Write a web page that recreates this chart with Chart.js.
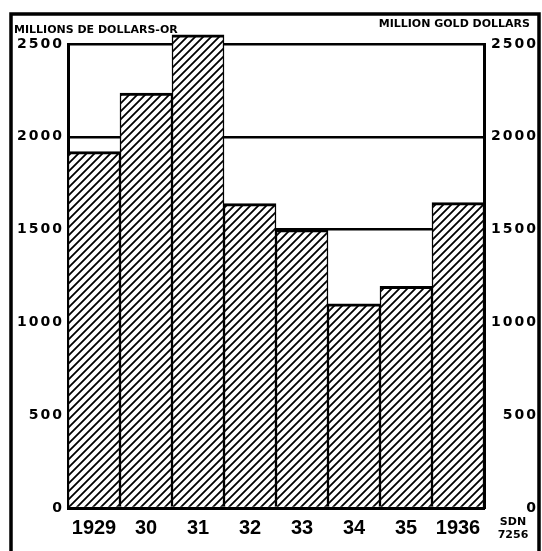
<!DOCTYPE html>
<html>
<head>
<meta charset="utf-8">
<script src="https://cdn.jsdelivr.net/npm/chart.js@4"></script>
<style>
    html, body { margin: 0; padding: 0; background: #fff; }
    #wrap { width: 542px; height: 551px; }
</style>
</head>
<body>
<div id="wrap"><canvas id="gold-chart" width="542" height="551"></canvas></div>
<script>
/* Gold reserves 1929-1936, hatched bar chart */

const years = ['1929', '30', '31', '32', '33', '34', '35', '1936'];
const goldReserves = [1920, 2235, 2550, 1640, 1500, 1100, 1195, 1645];
const yTicks = [0, 500, 1000, 1500, 2000, 2500];
const titleLeft = 'MILLIONS DE DOLLARS-OR';
const titleRight = 'MILLION GOLD DOLLARS';
const sourceNote = ['SDN', '7256'];

const TICK_FONT = { family: '"DejaVu Sans", sans-serif', size: 14, weight: 'bold' };
const CAT_FONT = { family: '"Liberation Sans", Arial, sans-serif', size: 20, weight: 'bold' };

// ── Hatch fill ───────────────────────────────────────────────────────────

function makeHatch() {
    const tile = document.createElement('canvas');
    tile.width = 8;
    tile.height = 8;
    const c = tile.getContext('2d');
    c.fillStyle = '#fff';
    c.fillRect(0, 0, 8, 8);
    c.strokeStyle = '#000';
    c.lineWidth = 1.8;
    c.beginPath();
    c.moveTo(-1, 9); c.lineTo(9, -1);
    c.moveTo(-1, 1); c.lineTo(1, -1);
    c.moveTo(7, 9); c.lineTo(9, 7);
    c.stroke();
    return c.createPattern(tile, 'repeat');
}

// ── Plugins ──────────────────────────────────────────────────────────────

// wider tracking on the value axes, like the hand lettering
const spacingPlugin = {
    id: 'spacing',
    beforeDraw(chart) {
        ['y', 'y2'].forEach(id => {
            const sc = chart.scales[id];
            if (!sc || sc._spaced) return;
            const orig = sc.drawLabels;
            sc.drawLabels = function (area) {
                this.ctx.save();
                this.ctx.letterSpacing = '2px';
                orig.call(this, area);
                this.ctx.restore();
            };
            sc._spaced = true;
        });
    }
};

const framePlugin = {
    id: 'frame',
    afterDraw(chart) {
        const ctx = chart.ctx;
        ctx.save();
        ctx.strokeStyle = '#000';
        ctx.lineWidth = 3.5;
        ctx.beginPath();
        ctx.moveTo(11, 551);
        ctx.lineTo(11, 14);
        ctx.lineTo(539, 14);
        ctx.lineTo(539, 551);
        ctx.stroke();

        ctx.fillStyle = '#000';
        ctx.textBaseline = 'middle';
        ctx.font = 'bold 11px "DejaVu Sans"';
        ctx.textAlign = 'left';
        ctx.fillText(titleLeft, 14, 30);
        ctx.textAlign = 'right';
        ctx.fillText(titleRight, 530, 24);

        ctx.font = 'bold 11px "DejaVu Sans"';
        ctx.textAlign = 'center';
        ctx.fillText(sourceNote[0], 513, 522);
        ctx.fillText(sourceNote[1], 513, 535);
        ctx.restore();
    }
};

// ── Chart ────────────────────────────────────────────────────────────────

const canvas = document.getElementById('gold-chart');
const plainTick = v => String(v);

new Chart(canvas, {
    type: 'bar',
    data: {
        labels: years,
        datasets: [{
            data: goldReserves,
            backgroundColor: makeHatch(),
            borderColor: '#000',
            borderWidth: { top: 3, left: 1.5, right: 1.5, bottom: 0 },
            borderSkipped: false,
            barPercentage: 1,
            categoryPercentage: 1,
            clip: false,
        }],
    },
    options: {
        responsive: false,
        animation: false,
        layout: { padding: { top: 44, left: 0, right: 4, bottom: 0 } },
        plugins: {
            legend: { display: false },
            tooltip: { enabled: false },
        },
        scales: {
            x: {
                grid: { display: false },
                border: { display: true, color: '#000', width: 3 },
                ticks: { color: '#000', font: CAT_FONT, padding: 0, maxRotation: 0, autoSkip: false },
                afterFit: axis => { axis.height = 43; },
            },
            y: {
                position: 'left',
                min: 0,
                max: 2500,
                afterBuildTicks: axis => { axis.ticks = yTicks.map(v => ({ value: v })); },
                grid: { color: '#000', lineWidth: 2.5, drawTicks: false },
                border: { display: true, color: '#000', width: 3 },
                ticks: { color: '#000', font: TICK_FONT, padding: 4, callback: plainTick },
                afterFit: axis => { axis.width = 68; },
            },
            y2: {
                position: 'right',
                min: 0,
                max: 2500,
                afterBuildTicks: axis => { axis.ticks = yTicks.map(v => ({ value: v })); },
                grid: { display: false, drawTicks: false },
                border: { display: true, color: '#000', width: 3 },
                ticks: { color: '#000', font: TICK_FONT, padding: 6, crossAlign: 'far', callback: plainTick },
                afterFit: axis => { axis.width = 54; },
            },
        },
    },
    plugins: [spacingPlugin, framePlugin],
});
</script>
</body>
</html>
